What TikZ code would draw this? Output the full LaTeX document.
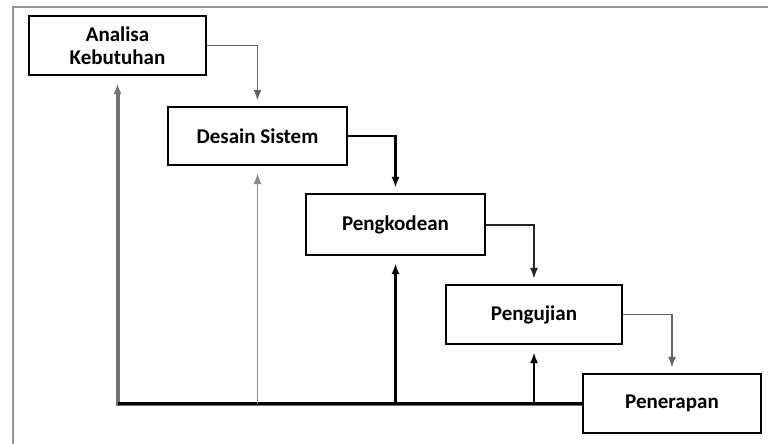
\documentclass[tikz,border=0pt]{standalone}
\usepackage{fontspec}
\setmainfont{Carlito}
\usepackage{tikz}
\usetikzlibrary{arrows.meta, positioning, calc}
\definecolor{framegray}{RGB}{150, 150, 150}
\definecolor{linegray}{RGB}{100, 100, 100}

\begin{document}
\begin{tikzpicture}[
    x=1pt, y=-1pt,
    phase/.style={rectangle, draw=black, line width=2.2pt, fill=white, minimum width=177pt, minimum height=59pt, align=center, font=\bfseries\fontsize{21}{23}\selectfont},
    arrow/.style={-{Latex[length=11pt, width=8pt]}, line width=1.8pt, draw=linegray, shorten >=5pt},
    back/.style={-{Latex[length=11pt, width=8pt]}, line width=2.4pt, draw=black, shorten >=7pt}
]
    \useasboundingbox (0,0) rectangle (768,444);
    % frame of the figure
    \draw[framegray, line width=2.5pt] (13,444) -- (13,7) -- (768,7);

    \node[phase] (ana) at (117.5,45.5) {Analisa\\Kebutuhan};
    \node[phase, minimum width=179pt, minimum height=58pt] (des) at (257.5,136) {Desain Sistem};
    \node[phase, minimum width=179pt, minimum height=61pt] (kod) at (395.5,224.5) {Pengkodean};
    \node[phase, minimum width=176pt] (uji) at (534,314.5) {Pengujian};
    \node[phase, minimum width=178pt] (ter) at (672,403.5) {Penerapan};

    % forward flow
    \draw[arrow] (ana.east) -| (des.north);
    \draw[arrow, draw=black, line width=2.4pt] (des.east) -| (kod.north);
    \draw[arrow, draw=black!85, line width=2pt] (kod.east) -| (uji.north);
    \draw[arrow] (uji.east) -| (ter.north);

    % feedback to earlier phases
    \draw[back, draw=black!55, line width=4pt] (ter.west) -| (ana.south);
    \draw[black, line width=2.4pt] (ter.west) -- (ter.west -| ana.south);
    \draw[back, draw=black!45, line width=1.4pt] (ter.west -| des.south) -- (des.south);
    \draw[back] (ter.west -| kod.south) -- (kod.south);
    \draw[back] (ter.west -| uji.south) -- (uji.south);
\end{tikzpicture}
\end{document}
